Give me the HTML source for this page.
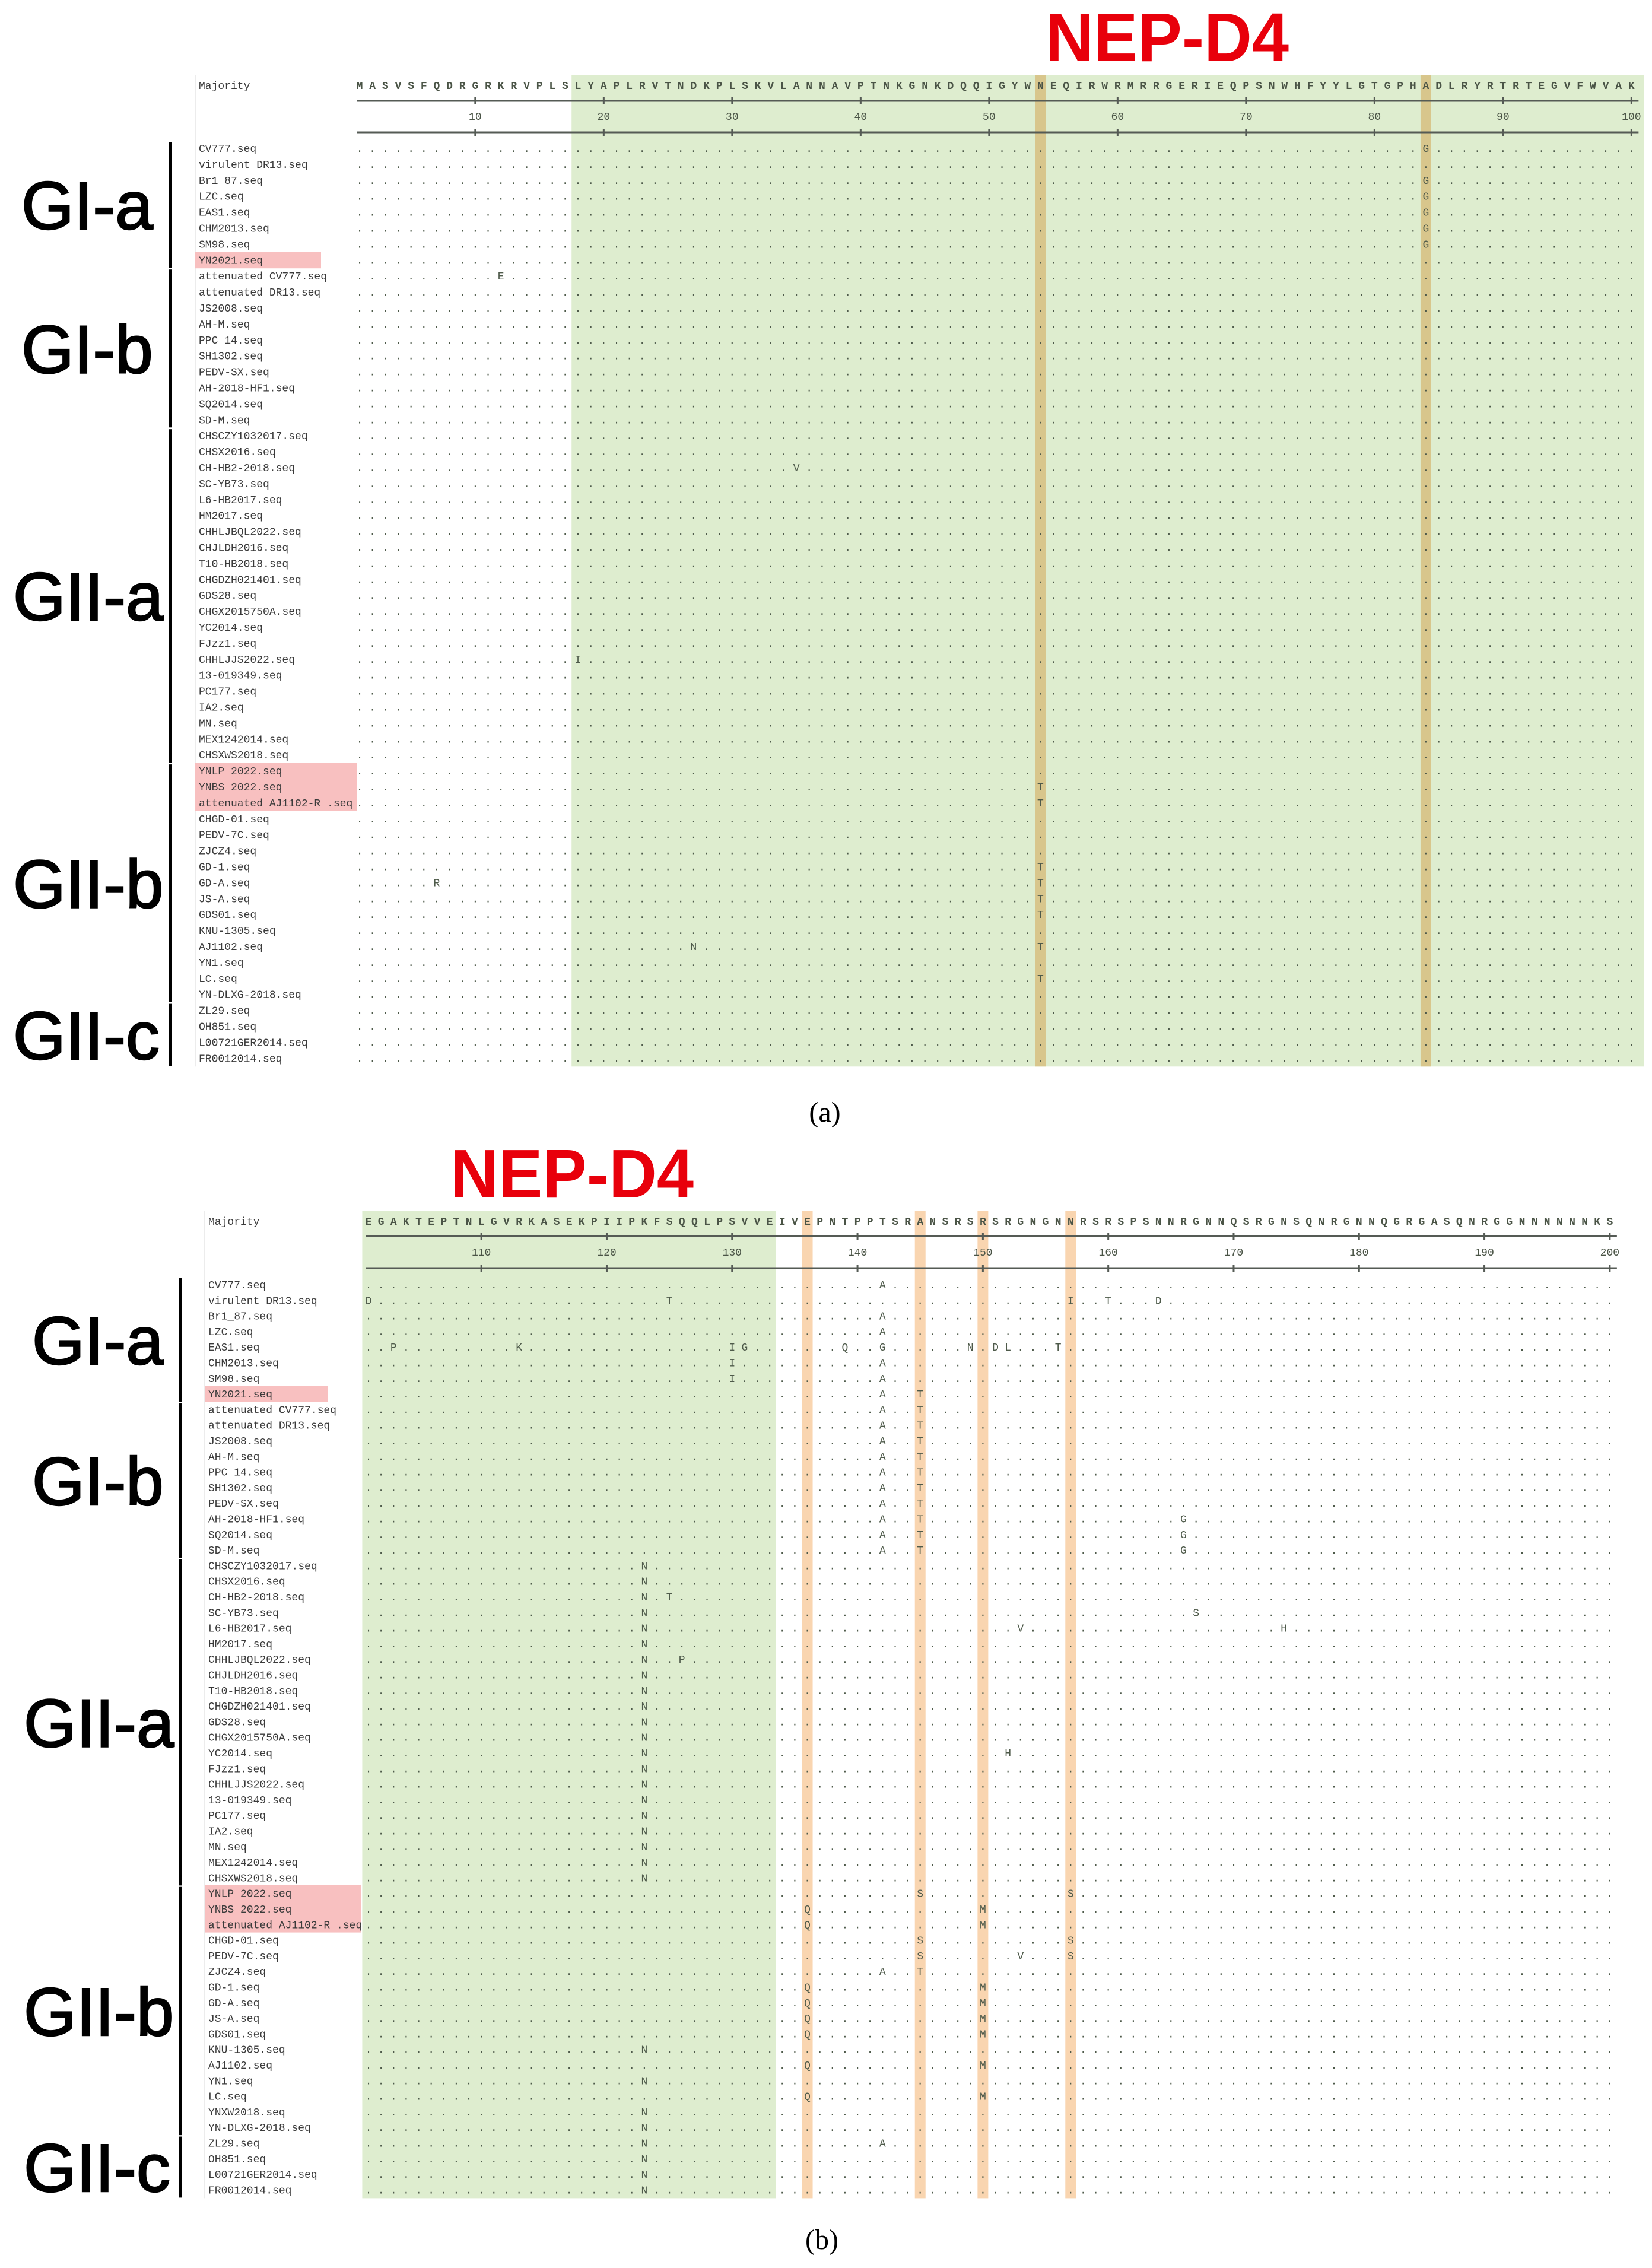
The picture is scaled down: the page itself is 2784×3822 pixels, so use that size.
<!DOCTYPE html>
<html>
<head>
<meta charset="utf-8">
<style>
html,body{margin:0;padding:0;background:#fff;}
svg{display:block;}
.nm{font-family:"Liberation Mono",monospace;font-size:18px;fill:#3a3a3a;}
.rs{font-family:"Liberation Mono",monospace;font-size:18px;fill:#4e5a4a;}
.mj{font-family:"Liberation Mono",monospace;font-size:18px;fill:#4a5446;font-weight:bold;}
.tk{font-family:"Liberation Mono",monospace;font-size:18px;fill:#4a5446;}
.grp{font-family:"Liberation Sans",sans-serif;font-size:114px;font-weight:normal;fill:#000;stroke:#000;stroke-width:2.5px;}
.nep{font-family:"Liberation Sans",sans-serif;font-size:116px;font-weight:bold;fill:#e8000b;}
.cap{font-family:"Liberation Serif",serif;font-size:48px;fill:#000;}
</style>
</head>
<body>
<svg id="fig" width="2784" height="3822" viewBox="0 0 2784 3822" xmlns="http://www.w3.org/2000/svg"></svg>
<script>
// ---------- DATA ----------
const majorityA = "MASVSFQDRGRKRVPLSLYAPLRVTNDKPLSKVLANNAVPTNKGNKDQQIGYWNEQIRWRMRRGERIEQPSNWHFYYLGTGPHADLRYRTRTEGVFWVAK";
const majorityB = "EGAKTEPTNLGVRKASEKPIIPKFSQQLPSVVEIVEPNTPPTSRANSRSRSRGNGNNRSRSPSNNRGNNQSRGNSQNRGNNQGRGASQNRGGNNNNNNKS";
const namesA = ["CV777.seq","virulent DR13.seq","Br1_87.seq","LZC.seq","EAS1.seq","CHM2013.seq","SM98.seq","YN2021.seq",
"attenuated CV777.seq","attenuated DR13.seq","JS2008.seq","AH-M.seq","PPC 14.seq","SH1302.seq","PEDV-SX.seq","AH-2018-HF1.seq","SQ2014.seq","SD-M.seq",
"CHSCZY1032017.seq","CHSX2016.seq","CH-HB2-2018.seq","SC-YB73.seq","L6-HB2017.seq","HM2017.seq","CHHLJBQL2022.seq","CHJLDH2016.seq","T10-HB2018.seq","CHGDZH021401.seq","GDS28.seq","CHGX2015750A.seq","YC2014.seq","FJzz1.seq","CHHLJJS2022.seq","13-019349.seq","PC177.seq","IA2.seq","MN.seq","MEX1242014.seq","CHSXWS2018.seq",
"YNLP 2022.seq","YNBS 2022.seq","attenuated AJ1102-R .seq","CHGD-01.seq","PEDV-7C.seq","ZJCZ4.seq","GD-1.seq","GD-A.seq","JS-A.seq","GDS01.seq","KNU-1305.seq","AJ1102.seq","YN1.seq","LC.seq","YN-DLXG-2018.seq",
"ZL29.seq","OH851.seq","L00721GER2014.seq","FR0012014.seq"];
const namesB = namesA.slice(0,53).concat(["YNXW2018.seq"]).concat(namesA.slice(53));
// mutations: [row(1-based), residue, aa]
const mutA = [[9,12,"E"],[1,84,"G"],[3,84,"G"],[4,84,"G"],[5,84,"G"],[6,84,"G"],[7,84,"G"],[21,35,"V"],[33,18,"I"],
[41,54,"T"],[42,54,"T"],[46,54,"T"],[47,54,"T"],[48,54,"T"],[49,54,"T"],[51,54,"T"],[53,54,"T"],[47,7,"R"],[51,27,"N"]];
const mutB = [[1,142,"A"],[2,101,"D"],[2,125,"T"],[2,157,"I"],[2,160,"T"],[2,164,"D"],[3,142,"A"],[4,142,"A"],
[5,103,"P"],[5,113,"K"],[5,130,"I"],[5,131,"G"],[5,139,"Q"],[5,142,"G"],[5,149,"N"],[5,151,"D"],[5,152,"L"],[5,156,"T"],
[6,130,"I"],[6,142,"A"],[7,130,"I"],[7,142,"A"],
[16,166,"G"],[17,166,"G"],[18,166,"G"],
[21,125,"T"],[22,167,"S"],[23,153,"V"],[23,174,"H"],[25,126,"P"],[31,152,"H"],
[40,145,"S"],[40,157,"S"],[41,136,"Q"],[41,150,"M"],[42,136,"Q"],[42,150,"M"],[43,145,"S"],[43,157,"S"],
[44,145,"S"],[44,153,"V"],[44,157,"S"],[45,142,"A"],[45,145,"T"],
[46,136,"Q"],[46,150,"M"],[47,136,"Q"],[47,150,"M"],[48,136,"Q"],[48,150,"M"],[49,136,"Q"],[49,150,"M"],
[50,123,"N"],[51,136,"Q"],[51,150,"M"],[52,123,"N"],[53,136,"Q"],[53,150,"M"],[54,123,"N"],[55,123,"N"],
[56,123,"N"],[56,142,"A"],[57,123,"N"],[58,123,"N"],[59,123,"N"]];
for (let r=8;r<=18;r++){ mutB.push([r,142,"A"]); mutB.push([r,145,"T"]); }
for (let r=19;r<=39;r++){ mutB.push([r,123,"N"]); }
const groupsA = [["GI-a",1,8],["GI-b",9,18],["GII-a",19,39],["GII-b",40,54],["GII-c",55,58]];
const groupsB = [["GI-a",1,8],["GI-b",9,18],["GII-a",19,39],["GII-b",40,55],["GII-c",56,59]];
const highlightA = [54,84];
const highlightB = [136,145,150,157];
const pinkSingle = [8];
const pinkBlock = [40,41,42];

// ---------- DRAW ----------
const NS="http://www.w3.org/2000/svg";
const svg=document.getElementById("fig");
function mk(tag,attrs,parent){const e=document.createElementNS(NS,tag);for(const k in attrs)e.setAttribute(k,attrs[k]);(parent||svg).appendChild(e);return e;}

function panel(P){
  const g=mk("g",{});
  
  
  const xr=i=>P.x0+(i-P.start)*P.dx;
  const yr=r=>P.y1+(r-1)*P.dy;
  const nRows=P.names.length;
  const yBot=yr(nRows)+14;
  const gr=mk("rect",{x:xr(P.gStart)-P.dx/2,y:P.yTop,width:P.gEndX-(xr(P.gStart)-P.dx/2),height:yBot-P.yTop,fill:"#deedcf"},g);
  
  
  P.hl.forEach(i=>{
    const c=mk("rect",{x:xr(i)-9,y:P.yTop,width:18,height:yBot-P.yTop,fill:P.hlColor},g);
    
    
  });
  mk("line",{x1:P.nameX-6,y1:P.yTop,x2:P.nameX-6,y2:yBot,stroke:"#ececec","stroke-width":2},g);
  pinkSingle.forEach(r=>{
    const p=mk("rect",{x:P.nameX-6,y:yr(r)-14,width:P.pinkW1,height:P.dy+1,fill:"#f8c0c0"},g);
    
    
  });
  pinkBlock.forEach(r=>{
    const p=mk("rect",{x:P.nameX-6,y:yr(r)-14,width:P.pinkW2,height:P.dy+1,fill:"#f8c0c0"},g);
    
    
  });
  const ml=mk("text",{x:P.nameX,y:P.yMaj+6,class:"nm"},g); ml.textContent="Majority";
  
  
  const xs=[];for(let i=0;i<100;i++)xs.push((xr(P.start+i)-5.4).toFixed(1));
  const mt=mk("text",{x:xs.join(" "),y:P.yMaj+6,class:"mj"},g); mt.textContent=P.maj;
  
  
  [P.yL1,P.yL2].forEach(yy=>{
    mk("line",{x1:xr(P.start)-4,y1:yy,x2:xr(P.start+99)+12,y2:yy,stroke:"#555b55","stroke-width":3},g);
    for(let t=P.start+9;t<=P.start+99;t+=10){ mk("line",{x1:xr(t),y1:yy-6,x2:xr(t),y2:yy+6,stroke:"#555b55","stroke-width":3},g); }
  });
  for(let t=P.start+9;t<=P.start+99;t+=10){
    const tl=mk("text",{x:xr(t),y:P.yNum+6,class:"tk","text-anchor":"middle"},g); tl.textContent=String(t);
    
    
  }
  P.names.forEach((n,k)=>{
    const r=k+1;
    const t=mk("text",{x:P.nameX,y:yr(r)+6,class:"nm"},g); t.textContent=n;
    
    
    const arr=new Array(100).fill(".");
    P.mut.forEach(m=>{ if(m[0]===r) arr[m[1]-P.start]=m[2]; });
    const s=mk("text",{x:xs.join(" "),y:yr(r)+6,class:"rs"},g); s.textContent=arr.join("");
    
    
  });
  P.groups.forEach(gp=>{
    const y1=yr(gp[1])-11, y2=yr(gp[2])+13;
    const b=mk("rect",{x:P.barX,y:y1,width:6,height:y2-y1,fill:"#000"},g);
    
    
    const gl=mk("text",{x:(gp[0].startsWith("GII")?P.gIIx:P.gIx),y:(y1+y2)/2+41,class:"grp"},g); gl.textContent=gp[0];
    
    
  });
  const nep=mk("text",{x:P.nepX,y:P.nepY,class:"nep",textLength:410,lengthAdjust:"spacingAndGlyphs"},g); nep.textContent="NEP-D4";
  
  
  const cap=mk("text",{x:P.capX,y:P.capY,class:"cap","text-anchor":"middle"},g); cap.textContent=P.cap;
  
  
}

panel({id:"panel-a",start:1,x0:606,dx:21.65,y1:250,dy:26.9,yTop:126,yMaj:144,yL1:170,yL2:223,yNum:196,
  names:namesA,maj:majorityA,mut:mutA,groups:groupsA,gStart:18,gEndX:2770,hl:highlightA,hlColor:"#d8c68c",
  nameX:335,pinkW1:212,pinkW2:272,barX:284,gIx:36,gIIx:22,nepX:1762,nepY:103,capX:1390,capY:1890,cap:"(a)"});
panel({id:"panel-b",start:101,x0:621,dx:21.13,y1:2165,dy:26.3,yTop:2040,yMaj:2058,yL1:2083,yL2:2137,yNum:2110,
  names:namesB,maj:majorityB,mut:mutB,groups:groupsB,gStart:101,gEndX:1308,hl:highlightB,hlColor:"#f9d5b0",
  nameX:351,pinkW1:208,pinkW2:264,barX:301,gIx:54,gIIx:40,nepX:759,nepY:2018,capX:1385,capY:3790,cap:"(b)"});
</script>
</body>
</html>
